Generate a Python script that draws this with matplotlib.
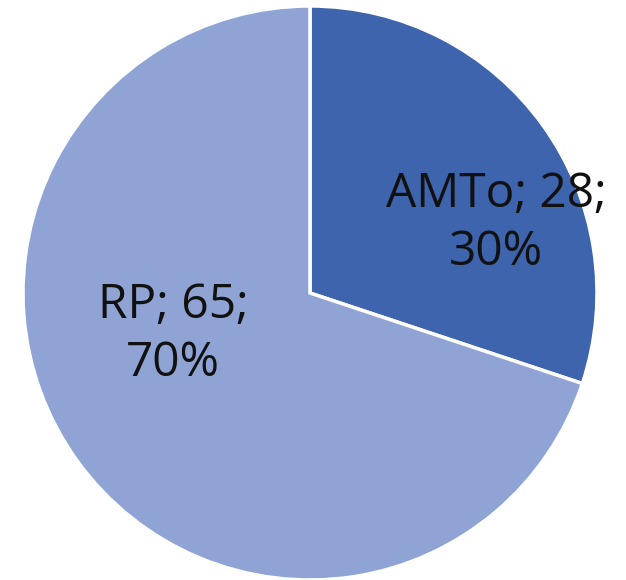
import matplotlib
matplotlib.use("Agg")
import matplotlib.pyplot as plt

categories = ["AMTo", "RP"]
values = [28, 65]
colors = ["#3D64AC", "#8FA4D4"]

W, H, DPI = 626, 580, 100
fig = plt.figure(figsize=(W / DPI, H / DPI), dpi=DPI)
fig.patch.set_facecolor("white")
R = 287.0
cx, cy = 310.0, 293.0
ax = fig.add_axes([0, 0, 1, 1])
wedges, _ = ax.pie(values, colors=colors, startangle=90, counterclock=False,
                   radius=1.0, wedgeprops=dict(edgecolor="white", linewidth=2.5))
ax.set_xlim(-cx / R, (W - cx) / R)
ax.set_ylim(-(H - cy) / R, cy / R)
ax.set_aspect("equal")
ax.axis("off")

total = sum(values)
label_pos = [(496, 223), (173, 334)]
for cat, v, (px, py) in zip(categories, values, label_pos):
    pct = round(100 * v / total)
    ax.text((px - cx) / R, (cy - py) / R, f"{cat}; {v};\n{pct}%",
            ha="center", va="center", fontsize=34.5, family="Open Sans",
            color="#111111", linespacing=1.3)

fig.savefig("out.png", dpi=DPI)
